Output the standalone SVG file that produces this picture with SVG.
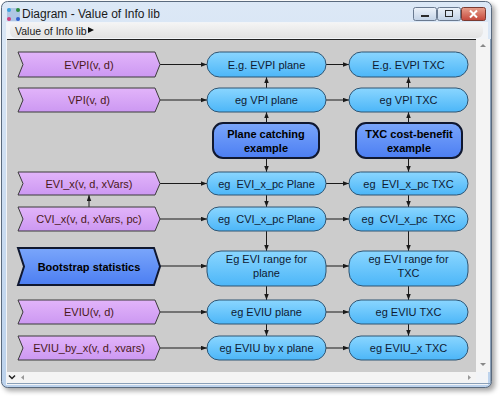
<svg xmlns="http://www.w3.org/2000/svg" width="500" height="396" viewBox="0 0 500 396">
<defs>
<style>
.t{font-family:"Liberation Sans",Arial,sans-serif;font-size:11px;text-anchor:middle;white-space:pre}
.lt{fill:#4a1818}
.bt{fill:#0e1a33}
.bold{font-weight:bold;fill:#000}
.lnode{fill:url(#gPurple);stroke:#3a3a3a;stroke-width:1}
.pill{fill:url(#gBlue);stroke:#2f5472;stroke-width:1}
.big{fill:url(#gDeep);stroke:#101830;stroke-width:2}
.c{stroke:#1a1a1a;stroke-width:1;fill:none;marker-end:url(#ah)}
.chrome{font-family:"Liberation Sans",Arial,sans-serif;font-size:12px;fill:#1a1a1a}
</style>
<linearGradient id="gPurple" x1="0" y1="0" x2="0" y2="1"><stop offset="0" stop-color="#e2b4fa"/><stop offset="1" stop-color="#cc98f2"/></linearGradient>
<linearGradient id="gBlue" x1="0" y1="0" x2="0" y2="1"><stop offset="0" stop-color="#8ad6ff"/><stop offset="1" stop-color="#4cb6f8"/></linearGradient>
<linearGradient id="gDeep" x1="0" y1="0" x2="0" y2="1"><stop offset="0" stop-color="#7aa6fb"/><stop offset="1" stop-color="#4c7ef2"/></linearGradient>
<linearGradient id="gTitle" x1="0" y1="0" x2="0" y2="1"><stop offset="0" stop-color="#dce8f6"/><stop offset="1" stop-color="#bcd2ec"/></linearGradient>
<linearGradient id="gTool" x1="0" y1="0" x2="0" y2="1"><stop offset="0" stop-color="#f4f4f4"/><stop offset="1" stop-color="#e2e2e2"/></linearGradient>
<linearGradient id="gBtn" x1="0" y1="0" x2="0" y2="1"><stop offset="0" stop-color="#eef3fa"/><stop offset="1" stop-color="#c2d2e6"/></linearGradient>
<linearGradient id="gClose" x1="0" y1="0" x2="0" y2="1"><stop offset="0" stop-color="#e8a08c"/><stop offset="1" stop-color="#c4463a"/></linearGradient>
<filter id="sh" x="-5%" y="-5%" width="110%" height="110%"><feGaussianBlur stdDeviation="2.5"/></filter>
<marker id="ah" viewBox="0 0 8 6" refX="8" refY="3" markerWidth="6" markerHeight="5" markerUnits="userSpaceOnUse" orient="auto"><path d="M0,0 L8,3 L0,6 Z" fill="#1a1a1a"/></marker>
</defs>
<rect width="500" height="396" fill="#ffffff"/>
<!-- window chrome -->
<rect x="4" y="4" width="491" height="387" rx="6" fill="#000" opacity="0.35" filter="url(#sh)"/>
<rect x="1.5" y="1.5" width="490" height="386" rx="6" fill="url(#gTitle)" stroke="#5a6a7e"/>
<rect x="7" y="8" width="13" height="13" rx="2" fill="#8fb0d8" opacity="0.6"/>
<circle cx="9" cy="10" r="2" fill="#3aa0e0"/><circle cx="18" cy="10" r="2" fill="#2b8c40"/><circle cx="9" cy="19" r="2" fill="#d04080"/><circle cx="18" cy="19" r="2" fill="#3060d0"/>
<text x="22" y="18" class="chrome">Diagram - Value of Info lib</text>
<rect x="413.5" y="7.5" width="23" height="13" rx="2" fill="url(#gBtn)" stroke="#6a7a90"/>
<rect x="421" y="15" width="8" height="2" fill="#2a2a2a"/>
<rect x="437.5" y="7.5" width="23" height="13" rx="2" fill="url(#gBtn)" stroke="#6a7a90"/>
<rect x="445.5" y="10.5" width="7" height="6" fill="none" stroke="#2a2a2a"/>
<rect x="461.5" y="7.5" width="24" height="13" rx="2" fill="url(#gClose)" stroke="#7a3a30"/>
<path d="M470,10.5 L477,17.5 M477,10.5 L470,17.5" stroke="#fff" stroke-width="2"/>
<rect x="6" y="22" width="482" height="363" fill="#f2f4f7"/>
<rect x="10" y="23" width="473" height="15" rx="6" fill="url(#gTool)"/>
<text x="15" y="35" class="chrome" style="font-size:10.5px">Value of Info lib</text>
<path d="M88,27 L94,30 L88,33 Z" fill="#111"/>
<!-- canvas -->
<rect x="7" y="39" width="469" height="333" fill="#cccccc"/>
<line x1="7" y1="39.5" x2="476" y2="39.5" stroke="#222"/>
<rect x="476" y="39" width="14" height="333" fill="#f4f4f4"/>
<path d="M480,47 L483,44 L486,47 Z" fill="#888"/>
<path d="M480,363 L483,366 L486,363 Z" fill="#888"/>
<rect x="7" y="372" width="469" height="11" fill="#f4f4f4"/>
<path d="M9,375.5 L12,378.5 L15,375.5" stroke="#222" stroke-width="1.5" fill="none"/>
<path d="M24,375 L21,377.5 L24,380 Z" fill="#999"/>
<path d="M468,375 L471,377.5 L468,380 Z" fill="#999"/>
<line x1="7" y1="383.5" x2="490" y2="383.5" stroke="#8aa0b8"/>
<line x1="490.5" y1="39" x2="490.5" y2="384" stroke="#8aa0b8"/>
<!-- connectors -->
<g id="connectors">
<line class="c" x1="160" y1="64.5" x2="207" y2="64.5"/>
<line class="c" x1="160" y1="100" x2="207" y2="100"/>
<line class="c" x1="160" y1="183.5" x2="207" y2="183.5"/>
<line class="c" x1="160" y1="219" x2="207" y2="219"/>
<line class="c" x1="160" y1="266" x2="207" y2="266"/>
<line class="c" x1="160" y1="312" x2="207" y2="312"/>
<line class="c" x1="160" y1="348" x2="207" y2="348"/>
<line class="c" x1="326" y1="64.5" x2="349" y2="64.5"/>
<line class="c" x1="326" y1="100" x2="349" y2="100"/>
<line class="c" x1="326" y1="183.5" x2="349" y2="183.5"/>
<line class="c" x1="326" y1="219" x2="349" y2="219"/>
<line class="c" x1="326" y1="266" x2="349" y2="266"/>
<line class="c" x1="326" y1="312" x2="349" y2="312"/>
<line class="c" x1="326" y1="348" x2="349" y2="348"/>
<line class="c" x1="89" y1="207" x2="89" y2="195"/>
<line class="c" x1="266.5" y1="88" x2="266.5" y2="77"/>
<line class="c" x1="266.5" y1="123" x2="266.5" y2="112"/>
<line class="c" x1="266.5" y1="158" x2="266.5" y2="172"/>
<line class="c" x1="266.5" y1="195" x2="266.5" y2="207"/>
<line class="c" x1="266.5" y1="231" x2="266.5" y2="251"/>
<line class="c" x1="266.5" y1="286" x2="266.5" y2="300"/>
<line class="c" x1="266.5" y1="324" x2="266.5" y2="336"/>
<line class="c" x1="408.5" y1="88" x2="408.5" y2="77"/>
<line class="c" x1="408.5" y1="123" x2="408.5" y2="112"/>
<line class="c" x1="408.5" y1="158" x2="408.5" y2="172"/>
<line class="c" x1="408.5" y1="195" x2="408.5" y2="207"/>
<line class="c" x1="408.5" y1="231" x2="408.5" y2="251"/>
<line class="c" x1="408.5" y1="286" x2="408.5" y2="300"/>
<line class="c" x1="408.5" y1="324" x2="408.5" y2="336"/>
</g>
<!-- left column -->
<g id="evpi"><path class="lnode" d="M18,52 L155,52 L160,64.5 L155,77 L18,77 L23,64.5 Z"/><text class="t lt" x="89" y="68.5">EVPI(v, d)</text></g>
<g id="vpi"><path class="lnode" d="M18,88 L155,88 L160,100 L155,112 L18,112 L23,100 Z"/><text class="t lt" x="89" y="104">VPI(v, d)</text></g>
<g id="evi_x"><path class="lnode" d="M18,172 L155,172 L160,183.5 L155,195 L18,195 L23,183.5 Z"/><text class="t lt" x="89" y="187.5">EVI_x(v, d, xVars)</text></g>
<g id="cvi_x"><path class="lnode" d="M18,207 L155,207 L160,219 L155,231 L18,231 L23,219 Z"/><text class="t lt" x="89" y="223">CVI_x(v, d, xVars, pc)</text></g>
<g id="bootstrap"><path class="big" d="M18,248 L154,248 L160,266.5 L154,285 L18,285 L24,266.5 Z" stroke-width="1.5"/><text class="t bold" x="89" y="270.5">Bootstrap statistics</text></g>
<g id="eviu"><path class="lnode" d="M18,300 L155,300 L160,312 L155,324 L18,324 L23,312 Z"/><text class="t lt" x="89" y="316">EVIU(v, d)</text></g>
<g id="eviu_by_x"><path class="lnode" d="M18,336 L155,336 L160,348 L155,360 L18,360 L23,348 Z"/><text class="t lt" x="89" y="352">EVIU_by_x(v, d, xvars)</text></g>
<!-- middle column -->
<g id="evpi_plane"><rect class="pill" x="207" y="52" width="119" height="25" rx="12.5"/><text class="t bt" x="266.5" y="68.5">E.g. EVPI plane</text></g>
<g id="vpi_plane"><rect class="pill" x="207" y="88" width="119" height="24" rx="12"/><text class="t bt" x="266.5" y="104">eg VPI plane</text></g>
<g id="plane_example"><rect class="big" x="213" y="123" width="106" height="35" rx="10"/><text class="t bold" x="266" y="138">Plane catching</text><text class="t bold" x="266" y="151.5">example</text></g>
<g id="evi_x_pc_plane"><rect class="pill" x="207" y="172" width="119" height="23" rx="11.5"/><text class="t bt" x="266.5" y="187.5" xml:space="preserve">eg  EVI_x_pc Plane</text></g>
<g id="cvi_x_pc_plane"><rect class="pill" x="207" y="207" width="119" height="24" rx="12"/><text class="t bt" x="266.5" y="223" xml:space="preserve">eg  CVI_x_pc Plane</text></g>
<g id="evi_range_plane"><rect class="pill" x="207" y="251" width="119" height="35" rx="14"/><text class="t bt" x="266.5" y="263">Eg EVI range for</text><text class="t bt" x="266.5" y="277">plane</text></g>
<g id="eviu_plane"><rect class="pill" x="207" y="300" width="119" height="24" rx="12"/><text class="t bt" x="266.5" y="316">eg EVIU plane</text></g>
<g id="eviu_x_plane"><rect class="pill" x="207" y="336" width="119" height="24" rx="12"/><text class="t bt" x="266.5" y="352">eg EVIU by x plane</text></g>
<!-- right column -->
<g id="evpi_txc"><rect class="pill" x="349" y="52" width="119" height="25" rx="12.5"/><text class="t bt" x="408.5" y="68.5">E.g. EVPI TXC</text></g>
<g id="vpi_txc"><rect class="pill" x="349" y="88" width="119" height="24" rx="12"/><text class="t bt" x="408.5" y="104">eg VPI TXC</text></g>
<g id="txc_example"><rect class="big" x="356" y="123" width="106" height="35" rx="10"/><text class="t bold" x="409" y="138">TXC cost-benefit</text><text class="t bold" x="409" y="151.5">example</text></g>
<g id="evi_x_pc_txc"><rect class="pill" x="349" y="172" width="119" height="23" rx="11.5"/><text class="t bt" x="408.5" y="187.5" xml:space="preserve">eg  EVI_x_pc TXC</text></g>
<g id="cvi_x_pc_txc"><rect class="pill" x="349" y="207" width="119" height="24" rx="12"/><text class="t bt" x="408.5" y="223" xml:space="preserve">eg  CVI_x_pc  TXC</text></g>
<g id="evi_range_txc"><rect class="pill" x="349" y="251" width="119" height="35" rx="14"/><text class="t bt" x="408.5" y="263">eg EVI range for</text><text class="t bt" x="408.5" y="277">TXC</text></g>
<g id="eviu_txc"><rect class="pill" x="349" y="300" width="119" height="24" rx="12"/><text class="t bt" x="408.5" y="316">eg EVIU TXC</text></g>
<g id="eviu_x_txc"><rect class="pill" x="349" y="336" width="119" height="24" rx="12"/><text class="t bt" x="408.5" y="352">eg EVIU_x TXC</text></g>
</svg>
